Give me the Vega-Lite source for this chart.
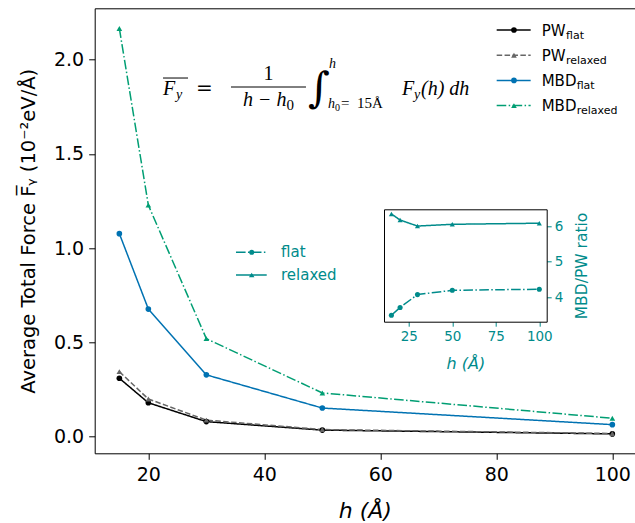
{
  "$schema": "https://vega.github.io/schema/vega-lite/v6.json",
  "width": 540.3,
  "height": 445,
  "autosize": {"type": "none"},
  "padding": {"left": 94.7, "top": 8.3, "right": 0, "bottom": 69.7},
  "background": "white",
  "config": {
    "view": {"stroke": null},
    "font": "DejaVu Sans",
    "axis": {"grid": false, "domainColor": "#000", "tickColor": "#000", "labelColor": "#000", "titleColor": "#000", "titleFontWeight": "normal", "domainWidth": 1, "tickWidth": 1, "labelFont": "DejaVu Sans", "titleFont": "DejaVu Sans"}
  },
  "datasets": {
    "main": [
      {"h": 15, "series": "PW_flat", "force": 0.31},
      {"h": 20, "series": "PW_flat", "force": 0.18},
      {"h": 30, "series": "PW_flat", "force": 0.08},
      {"h": 50, "series": "PW_flat", "force": 0.035},
      {"h": 100, "series": "PW_flat", "force": 0.015},
      {"h": 15, "series": "PW_relaxed", "force": 0.345},
      {"h": 20, "series": "PW_relaxed", "force": 0.2},
      {"h": 30, "series": "PW_relaxed", "force": 0.088},
      {"h": 50, "series": "PW_relaxed", "force": 0.038},
      {"h": 100, "series": "PW_relaxed", "force": 0.017},
      {"h": 15, "series": "MBD_flat", "force": 1.077},
      {"h": 20, "series": "MBD_flat", "force": 0.677},
      {"h": 30, "series": "MBD_flat", "force": 0.328},
      {"h": 50, "series": "MBD_flat", "force": 0.152},
      {"h": 100, "series": "MBD_flat", "force": 0.064},
      {"h": 15, "series": "MBD_relaxed", "force": 2.165},
      {"h": 20, "series": "MBD_relaxed", "force": 1.228},
      {"h": 30, "series": "MBD_relaxed", "force": 0.52},
      {"h": 50, "series": "MBD_relaxed", "force": 0.232},
      {"h": 100, "series": "MBD_relaxed", "force": 0.098}
    ],
    "ratio": [
      {"h": 15, "kind": "flat", "ratio": 3.5},
      {"h": 20, "kind": "flat", "ratio": 3.72},
      {"h": 30, "kind": "flat", "ratio": 4.08},
      {"h": 50, "kind": "flat", "ratio": 4.2},
      {"h": 100, "kind": "flat", "ratio": 4.23},
      {"h": 15, "kind": "relaxed", "ratio": 6.34},
      {"h": 20, "kind": "relaxed", "ratio": 6.17},
      {"h": 30, "kind": "relaxed", "ratio": 6.0},
      {"h": 50, "kind": "relaxed", "ratio": 6.05},
      {"h": 100, "kind": "relaxed", "ratio": 6.08}
    ],
    "leg": [
      {"series": "PW_flat", "lab": "PW", "sub": "flat", "ly": 2.1569},
      {"series": "PW_relaxed", "lab": "PW", "sub": "relaxed", "ly": 2.0232},
      {"series": "MBD_flat", "lab": "MBD", "sub": "flat", "ly": 1.8896},
      {"series": "MBD_relaxed", "lab": "MBD", "sub": "relaxed", "ly": 1.7559}
    ],
    "mid": [
      {"kind": "flat", "ly": 0.9779},
      {"kind": "relaxed", "ly": 0.8576}
    ],
    "formula": [
      {"role": "it", "t": "F", "x": 22.53, "y": 1.8122},
      {"role": "it", "t": "h \u2212 h", "x": 36.32, "y": 1.7538},
      {"role": "it", "t": "F", "x": 63.73, "y": 1.8122},
      {"role": "it", "t": "(h) dh", "x": 67.01, "y": 1.8122},
      {"role": "its", "t": "y", "x": 24.77, "y": 1.7910},
      {"role": "its", "t": "y", "x": 65.80, "y": 1.7910},
      {"role": "its", "t": "h", "x": 51.15, "y": 1.9555},
      {"role": "its", "t": "h", "x": 50.97, "y": 1.7432},
      {"role": "ups", "t": "0", "x": 43.82, "y": 1.7326},
      {"role": "ups", "t": "\u2002=\u200215Å", "x": 53.22, "y": 1.7432},
      {"role": "upt", "t": "0", "x": 52.18, "y": 1.7273},
      {"role": "eq", "t": "=", "x": 28.22, "y": 1.8122},
      {"role": "num", "t": "1", "x": 40.72, "y": 1.8917},
      {"role": "int", "t": "∫", "x": 47.53, "y": 1.7752}
    ],
    "bars": [
      {"x": 34.25, "x2": 47.18, "y": 1.8546},
      {"x": 22.53, "x2": 26.84, "y": 1.9022}
    ]
  },
  "layer": [
    {
      "layer": [
        {
          "data": {"name": "main"},
          "mark": {"type": "line", "strokeWidth": 1.5},
          "encoding": {
            "x": {"field": "h", "type": "quantitative", "scale": {"domain": [10.75, 103.91], "nice": false, "zero": false},
              "axis": {"orient": "bottom", "values": [20, 40, 60, 80, 100], "format": "d", "title": "h (Å)", "titleFontStyle": "italic", "titleFontSize": 22, "titlePadding": 16, "labelFontSize": 19, "tickSize": 6, "labelPadding": 6, "labelFlush": false}},
            "y": {"field": "force", "type": "quantitative", "scale": {"domain": [-0.088, 2.272], "nice": false, "zero": false},
              "axis": {"orient": "left", "values": [0, 0.5, 1, 1.5, 2], "format": ".1f", "title": "Average Total Force F\u0305\u1d67 (10\u207b\u00b2eV/\u00c5)", "titleFontSize": 19.5, "titlePadding": 15, "labelFontSize": 19, "tickSize": 6, "labelPadding": 5, "labelFlush": false}},
            "color": {"field": "series", "type": "nominal", "scale": {"domain": ["PW_flat", "PW_relaxed", "MBD_flat", "MBD_relaxed"], "range": ["#000000", "#666666", "#0072b2", "#009e73"]}, "legend": null},
            "strokeDash": {"field": "series", "type": "nominal", "scale": {"domain": ["PW_flat", "PW_relaxed", "MBD_flat", "MBD_relaxed"], "range": [[1, 0], [5.5, 2.4], [1, 0], [9.6, 2.4, 1.5, 2.4]]}, "legend": null}
          }
        },
        {
          "data": {"name": "main"},
          "mark": {"type": "point", "filled": true, "opacity": 1, "size": 32},
          "encoding": {
            "x": {"field": "h", "type": "quantitative", "axis": {"orient": "top", "labels": false, "ticks": false, "title": null, "domainColor": "#000"}},
            "y": {"field": "force", "type": "quantitative", "axis": {"orient": "right", "labels": false, "ticks": false, "domain": false, "title": null}},
            "color": {"field": "series", "type": "nominal", "legend": null},
            "shape": {"field": "series", "type": "nominal", "scale": {"domain": ["PW_flat", "PW_relaxed", "MBD_flat", "MBD_relaxed"], "range": ["circle", "triangle-up", "circle", "triangle-up"]}, "legend": null}
          }
        },
        {
          "data": {"name": "leg"},
          "mark": {"type": "rule", "strokeWidth": 1.5},
          "encoding": {
            "x": {"datum": 80.06, "type": "quantitative", "axis": null},
            "x2": {"datum": 85.92},
            "y": {"field": "ly", "type": "quantitative", "axis": null},
            "color": {"field": "series", "type": "nominal", "legend": null},
            "strokeDash": {"field": "series", "type": "nominal", "legend": null}
          }
        },
        {
          "data": {"name": "leg"},
          "mark": {"type": "point", "filled": true, "opacity": 1, "size": 32},
          "encoding": {
            "x": {"datum": 83.04, "type": "quantitative", "axis": null},
            "y": {"field": "ly", "type": "quantitative", "axis": null},
            "color": {"field": "series", "type": "nominal", "legend": null},
            "shape": {"field": "series", "type": "nominal", "legend": null}
          }
        },
        {
          "data": {"name": "leg"},
          "mark": {"type": "text", "align": "left", "baseline": "alphabetic", "fontSize": 15, "dy": 5.5, "font": "DejaVu Sans", "color": "#000"},
          "encoding": {
            "x": {"datum": 87.82, "type": "quantitative", "axis": null},
            "y": {"field": "ly", "type": "quantitative", "axis": null},
            "text": {"field": "lab"}
          }
        },
        {
          "data": {"name": "leg"},
          "transform": [{"filter": "datum.lab === 'PW'"}],
          "mark": {"type": "text", "align": "left", "baseline": "alphabetic", "fontSize": 11, "dy": 8.5, "font": "DejaVu Sans", "color": "#000"},
          "encoding": {
            "x": {"datum": 92.01, "type": "quantitative", "axis": null},
            "y": {"field": "ly", "type": "quantitative", "axis": null},
            "text": {"field": "sub"}
          }
        },
        {
          "data": {"name": "leg"},
          "transform": [{"filter": "datum.lab === 'MBD'"}],
          "mark": {"type": "text", "align": "left", "baseline": "alphabetic", "fontSize": 11, "dy": 8.5, "font": "DejaVu Sans", "color": "#000"},
          "encoding": {
            "x": {"datum": 93.85, "type": "quantitative", "axis": null},
            "y": {"field": "ly", "type": "quantitative", "axis": null},
            "text": {"field": "sub"}
          }
        },
        {
          "data": {"name": "mid"},
          "transform": [{"filter": "datum.kind === 'flat'"}],
          "mark": {"type": "rule", "strokeWidth": 1.5, "color": "#008b8b", "strokeDash": [9.6, 2.4, 1.5, 2.4]},
          "encoding": {
            "x": {"datum": 35.11, "type": "quantitative", "axis": null},
            "x2": {"datum": 40.41},
            "y": {"field": "ly", "type": "quantitative", "axis": null}
          }
        },
        {
          "data": {"name": "mid"},
          "transform": [{"filter": "datum.kind === 'relaxed'"}],
          "mark": {"type": "rule", "strokeWidth": 1.5, "color": "#008b8b"},
          "encoding": {
            "x": {"datum": 35.11, "type": "quantitative", "axis": null},
            "x2": {"datum": 40.41},
            "y": {"field": "ly", "type": "quantitative", "axis": null}
          }
        },
        {
          "data": {"name": "mid"},
          "transform": [{"filter": "datum.kind === 'flat'"}],
          "mark": {"type": "point", "filled": true, "opacity": 1, "size": 26, "shape": "circle", "color": "#008b8b"},
          "encoding": {
            "x": {"datum": 37.82, "type": "quantitative", "axis": null},
            "y": {"field": "ly", "type": "quantitative", "axis": null}
          }
        },
        {
          "data": {"name": "mid"},
          "transform": [{"filter": "datum.kind === 'relaxed'"}],
          "mark": {"type": "point", "filled": true, "opacity": 1, "size": 30, "shape": "triangle-up", "color": "#008b8b"},
          "encoding": {
            "x": {"datum": 37.82, "type": "quantitative", "axis": null},
            "y": {"field": "ly", "type": "quantitative", "axis": null}
          }
        },
        {
          "data": {"name": "mid"},
          "mark": {"type": "text", "align": "left", "baseline": "alphabetic", "fontSize": 15, "dy": 5, "font": "DejaVu Sans", "color": "#008b8b"},
          "encoding": {
            "x": {"datum": 42.87, "type": "quantitative", "axis": null},
            "y": {"field": "ly", "type": "quantitative", "axis": null},
            "text": {"field": "kind"}
          }
        },
        {
          "data": {"name": "formula"},
          "transform": [{"filter": "datum.role === 'it'"}],
          "mark": {"type": "text", "align": "left", "baseline": "alphabetic", "fontSize": 20, "font": "Liberation Serif", "fontStyle": "italic", "color": "#000"},
          "encoding": {
            "x": {"field": "x", "type": "quantitative", "axis": null},
            "y": {"field": "y", "type": "quantitative", "axis": null},
            "text": {"field": "t"}
          }
        },
        {
          "data": {"name": "formula"},
          "transform": [{"filter": "datum.role === 'its'"}],
          "mark": {"type": "text", "align": "left", "baseline": "alphabetic", "fontSize": 14, "font": "Liberation Serif", "fontStyle": "italic", "color": "#000"},
          "encoding": {
            "x": {"field": "x", "type": "quantitative", "axis": null},
            "y": {"field": "y", "type": "quantitative", "axis": null},
            "text": {"field": "t"}
          }
        },
        {
          "data": {"name": "formula"},
          "transform": [{"filter": "datum.role === 'ups'"}],
          "mark": {"type": "text", "align": "left", "baseline": "alphabetic", "fontSize": 15, "font": "Liberation Serif", "color": "#000"},
          "encoding": {
            "x": {"field": "x", "type": "quantitative", "axis": null},
            "y": {"field": "y", "type": "quantitative", "axis": null},
            "text": {"field": "t"}
          }
        },
        {
          "data": {"name": "formula"},
          "transform": [{"filter": "datum.role === 'upt'"}],
          "mark": {"type": "text", "align": "left", "baseline": "alphabetic", "fontSize": 10, "font": "Liberation Serif", "color": "#000"},
          "encoding": {
            "x": {"field": "x", "type": "quantitative", "axis": null},
            "y": {"field": "y", "type": "quantitative", "axis": null},
            "text": {"field": "t"}
          }
        },
        {
          "data": {"name": "formula"},
          "transform": [{"filter": "datum.role === 'eq'"}],
          "mark": {"type": "text", "align": "left", "baseline": "alphabetic", "fontSize": 20, "font": "DejaVu Serif", "color": "#000"},
          "encoding": {
            "x": {"field": "x", "type": "quantitative", "axis": null},
            "y": {"field": "y", "type": "quantitative", "axis": null},
            "text": {"field": "t"}
          }
        },
        {
          "data": {"name": "formula"},
          "transform": [{"filter": "datum.role === 'num'"}],
          "mark": {"type": "text", "align": "center", "baseline": "alphabetic", "fontSize": 20, "font": "Liberation Serif", "color": "#000"},
          "encoding": {
            "x": {"field": "x", "type": "quantitative", "axis": null},
            "y": {"field": "y", "type": "quantitative", "axis": null},
            "text": {"field": "t"}
          }
        },
        {
          "data": {"name": "formula"},
          "transform": [{"filter": "datum.role === 'int'"}],
          "mark": {"type": "text", "align": "left", "baseline": "alphabetic", "fontSize": 42, "font": "DejaVu Serif", "color": "#000"},
          "encoding": {
            "x": {"field": "x", "type": "quantitative", "axis": null},
            "y": {"field": "y", "type": "quantitative", "axis": null},
            "text": {"field": "t"}
          }
        },
        {
          "data": {"name": "bars"},
          "mark": {"type": "rule", "strokeWidth": 1, "color": "#000"},
          "encoding": {
            "x": {"field": "x", "type": "quantitative", "axis": null},
            "x2": {"field": "x2"},
            "y": {"field": "y", "type": "quantitative", "axis": null}
          }
        }
      ]
    },
    {
      "layer": [
        {
          "data": {"name": "ratio"},
          "mark": {"type": "line", "strokeWidth": 1.5, "color": "#008b8b"},
          "encoding": {
            "x": {"field": "h", "type": "quantitative", "scale": {"domain": [10.75, 104.25], "range": [289.3, 452], "nice": false, "zero": false},
              "axis": {"orient": "bottom", "offset": -131.6, "values": [25, 50, 75, 100], "format": "d", "title": "h (Å)", "titleFontStyle": "italic", "titleFontSize": 16, "titleColor": "#008b8b", "titlePadding": 13, "labelFontSize": 13.5, "labelColor": "#008b8b", "tickColor": "#008b8b", "tickSize": 4.5, "labelPadding": 3, "labelFlush": false, "domainColor": "#000"}},
            "y": {"field": "ratio", "type": "quantitative", "scale": {"domain": [3.32, 6.47], "range": [313.4, 201], "nice": false, "zero": false},
              "axis": {"orient": "right", "offset": -88.3, "values": [4, 5, 6], "format": "d", "title": "MBD/PW ratio", "titleAngle": 270, "titleBaseline": "top", "titleFontSize": 15.5, "titleColor": "#008b8b", "titlePadding": 12, "labelFontSize": 13.5, "labelColor": "#008b8b", "tickColor": "#008b8b", "tickSize": 4.5, "labelPadding": 3, "labelFlush": false, "domainColor": "#000"}},
            "strokeDash": {"field": "kind", "type": "nominal", "scale": {"domain": ["flat", "relaxed"], "range": [[9.6, 2.4, 1.5, 2.4], [1, 0]]}, "legend": null}
          }
        },
        {
          "data": {"name": "ratio"},
          "mark": {"type": "point", "filled": true, "opacity": 1, "size": 26, "color": "#008b8b"},
          "encoding": {
            "x": {"field": "h", "type": "quantitative", "scale": {"domain": [10.75, 104.25], "range": [289.3, 452], "nice": false, "zero": false},
              "axis": {"orient": "top", "offset": -201, "labels": false, "ticks": false, "title": null, "domainColor": "#000"}},
            "y": {"field": "ratio", "type": "quantitative", "scale": {"domain": [3.32, 6.47], "range": [313.4, 201], "nice": false, "zero": false},
              "axis": {"orient": "left", "offset": -289.3, "labels": false, "ticks": false, "title": null, "domainColor": "#000"}},
            "shape": {"field": "kind", "type": "nominal", "scale": {"domain": ["flat", "relaxed"], "range": ["circle", "triangle-up"]}, "legend": null}
          }
        }
      ]
    }
  ],
  "resolve": {"scale": {"x": "independent", "y": "independent", "color": "independent", "strokeDash": "independent", "shape": "independent"}}
}
